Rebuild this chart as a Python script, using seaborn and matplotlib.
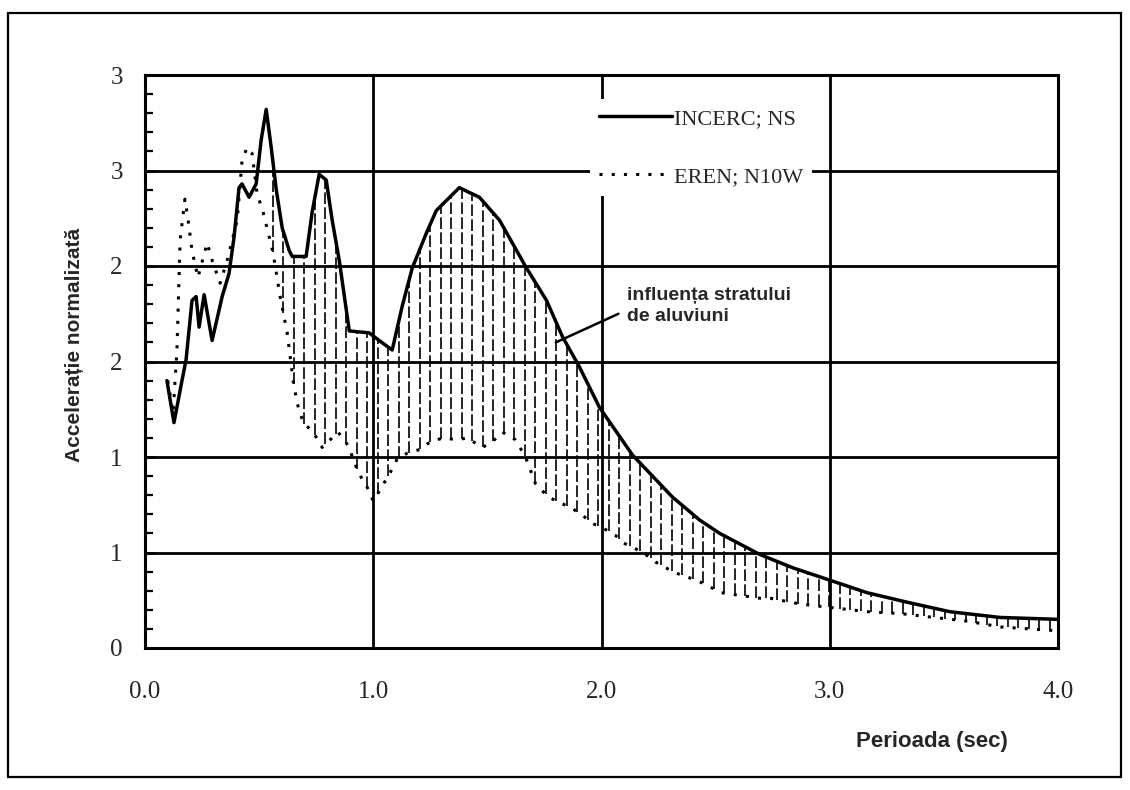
#!/usr/bin/env python3
"""Normalised response spectra: INCERC NS vs EREN N10W (alluvium influence)."""

import matplotlib.pyplot as plt
import numpy as np
import pandas as pd
import seaborn as sns
from matplotlib.patches import Rectangle
from matplotlib.ticker import FixedFormatter, FixedLocator, MultipleLocator

# INCERC; NS (solid)
ns_period = [0.096, 0.127, 0.162, 0.18, 0.206, 0.224, 0.237, 0.259, 0.294, 0.338,
             0.368, 0.39, 0.412, 0.425, 0.456, 0.487, 0.509, 0.531, 0.553, 0.575,
             0.601, 0.632, 0.645, 0.706, 0.732, 0.763, 0.794, 0.82, 0.851, 0.895,
             0.982, 1.026, 1.083, 1.127, 1.171, 1.232, 1.276, 1.377, 1.465, 1.553,
             1.671, 1.759, 1.829, 1.904, 1.991, 2.136, 2.311, 2.43, 2.518, 2.693,
             2.838, 3.013, 3.162, 3.338, 3.526, 3.746, 4.0]
ns_accel = [1.40, 1.18, 1.40, 1.51, 1.82, 1.84, 1.68, 1.85, 1.61, 1.84,
            1.96, 2.15, 2.41, 2.43, 2.36, 2.43, 2.66, 2.82, 2.62, 2.40,
            2.20, 2.08, 2.05, 2.05, 2.28, 2.48, 2.45, 2.24, 2.03, 1.66,
            1.65, 1.61, 1.56, 1.79, 1.99, 2.17, 2.29, 2.41, 2.36, 2.24,
            1.99, 1.82, 1.63, 1.47, 1.26, 1.01, 0.79, 0.67, 0.60, 0.49,
            0.42, 0.35, 0.29, 0.24, 0.19, 0.16, 0.15]

# EREN; N10W (dotted)
eren_period = [0.10, 0.123, 0.14, 0.154, 0.175, 0.189, 0.206, 0.232, 0.272, 0.294,
               0.329, 0.36, 0.404, 0.425, 0.447, 0.469, 0.491, 0.518, 0.561, 0.592,
               0.623, 0.649, 0.667, 0.693, 0.737, 0.776, 0.846, 0.89, 0.934, 0.974,
               1.0, 1.031, 1.075, 1.105, 1.149, 1.206, 1.25, 1.307, 1.368, 1.412,
               1.478, 1.522, 1.566, 1.623, 1.667, 1.711, 1.768, 1.82, 1.873, 1.921,
               1.965, 2.018, 2.061, 2.096, 2.149, 2.193, 2.237, 2.268, 2.311, 2.355,
               2.404, 2.443, 2.491, 2.522, 2.579, 2.64, 2.697, 2.741, 2.873, 3.018,
               3.167, 3.311, 3.456, 3.605, 3.75, 4.0]
eren_accel = [1.40, 1.23, 1.56, 2.14, 2.35, 2.24, 2.08, 1.94, 2.12, 2.03,
              1.91, 2.03, 2.24, 2.55, 2.62, 2.59, 2.38, 2.28, 2.07, 1.84,
              1.65, 1.40, 1.28, 1.18, 1.13, 1.05, 1.13, 1.06, 0.92, 0.84,
              0.77, 0.83, 0.92, 0.99, 1.02, 1.04, 1.08, 1.10, 1.09, 1.10,
              1.05, 1.08, 1.13, 1.09, 1.00, 0.86, 0.79, 0.76, 0.73, 0.69,
              0.65, 0.62, 0.59, 0.55, 0.52, 0.49, 0.45, 0.43, 0.40, 0.38,
              0.36, 0.34, 0.31, 0.29, 0.28, 0.27, 0.26, 0.26, 0.23, 0.21,
              0.19, 0.18, 0.16, 0.14, 0.11, 0.09]

xtick_vals = [0.0, 1.0, 2.0, 3.0, 4.0]
xtick_labels = ["0.0", "1.0", "2.0", "3.0", "4.0"]
ytick_vals = [0.0, 0.5, 1.0, 1.5, 2.0, 2.5, 3.0]
ytick_labels = ["0", "1", "1", "2", "2", "3", "3"]

SERIF = "Liberation Serif"
SANS = "Liberation Sans"


def main() -> None:
    sns.set_theme(style="white")
    plt.rcParams["font.family"] = [SERIF, "DejaVu Serif"]

    ns = pd.DataFrame({"period": ns_period, "accel": ns_accel})
    eren = pd.DataFrame({"period": eren_period, "accel": eren_accel})

    fig = plt.figure(figsize=(11.3, 7.9), dpi=100)
    ax = fig.add_axes([145 / 1130, 1 - 648 / 790, 913 / 1130, 573 / 790])

    # hatching between the two spectra
    hx = np.arange(0.56, 3.99, 0.046)
    top = np.interp(hx, ns["period"], ns["accel"])
    bot = np.interp(hx, eren["period"], eren["accel"])
    keep = top - bot > 0.03
    ax.vlines(hx[keep], bot[keep], top[keep], colors="black",
              linewidth=1.2, linestyles=(0, (7, 2)), zorder=2)

    sns.lineplot(data=ns, x="period", y="accel", ax=ax, color="black",
                 linewidth=2.5, label="INCERC; NS", zorder=3)
    sns.lineplot(data=eren, x="period", y="accel", ax=ax, color="black",
                 linewidth=2.2, linestyle=(0, (1, 3)), label="EREN; N10W", zorder=3)

    ax.set_xlim(0, 4)
    ax.set_ylim(0, 3)
    ax.xaxis.set_major_locator(FixedLocator(xtick_vals))
    ax.xaxis.set_major_formatter(FixedFormatter(xtick_labels))
    ax.yaxis.set_major_locator(FixedLocator(ytick_vals))
    ax.yaxis.set_major_formatter(FixedFormatter(ytick_labels))
    ax.yaxis.set_minor_locator(MultipleLocator(0.1))
    ax.tick_params(axis="x", length=0, pad=24, labelsize=18)
    ax.tick_params(axis="y", which="major", direction="in", length=7,
                   width=1.8, pad=16, labelsize=18, color="black", left=True)
    ax.tick_params(axis="y", which="minor", direction="in", length=6,
                   width=1.6, color="black", left=True)
    for lab in ax.get_xticklabels() + ax.get_yticklabels():
        lab.set_fontfamily(SERIF)

    ax.grid(True, which="major", color="black", linewidth=2.0)
    ax.set_axisbelow(True)
    for sp in ax.spines.values():
        sp.set_color("black")
        sp.set_linewidth(2.2)

    ax.set_xlabel("")
    ax.set_ylabel("")
    fig.text(75 / 1130, 1 - 345 / 790, "Accelerație normalizată", rotation=90,
             ha="center", va="center", fontsize=15, fontweight="bold",
             family=SANS)
    fig.text(932 / 1130, 1 - 742 / 790, "Perioada (sec)", ha="center",
             va="center", fontsize=16, fontweight="bold", family=SANS)

    ax.annotate("influența stratului\nde aluviuni", xy=(1.80, 1.60),
                xytext=(2.11, 1.79), ha="left", va="center", fontsize=14,
                fontweight="bold", family=SANS, linespacing=1.35,
                arrowprops=dict(arrowstyle="-", color="black", lw=1.8,
                                shrinkA=0, shrinkB=0, relpos=(-0.05, 0.3)))

    leg = ax.legend(loc="upper left", bbox_to_anchor=(0.475, 0.977),
                    prop={"family": SERIF, "size": 16}, handlelength=3.3,
                    handletextpad=0.1, labelspacing=1.7, borderpad=0.4,
                    frameon=True, fancybox=False, facecolor="white",
                    edgecolor="none", framealpha=1.0)
    leg.set_zorder(5)

    fig.patches.append(Rectangle((8 / 1130, 13 / 790), 1113 / 1130, 764 / 790,
                                 transform=fig.transFigure, fill=False,
                                 edgecolor="black", linewidth=1.6))

    fig.savefig("out.png", dpi=100)
    plt.close(fig)


if __name__ == "__main__":
    main()
